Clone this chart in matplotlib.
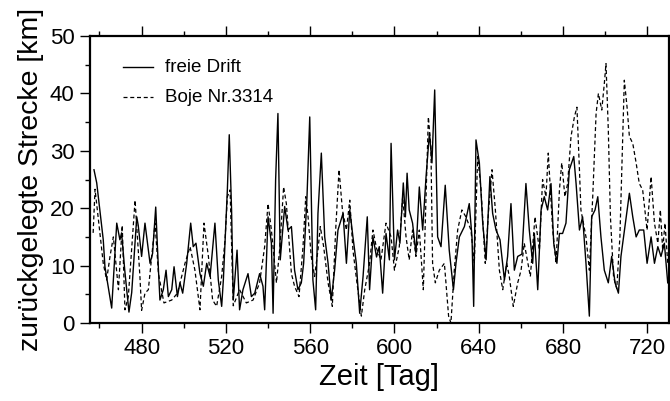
import matplotlib
matplotlib.use("Agg")
import matplotlib.pyplot as plt
from matplotlib.ticker import MultipleLocator

plt.rcParams['font.family'] = ['Liberation Sans', 'DejaVu Sans']

# Tagesweise zurückgelegte Strecke: Modell (freie Drift) und Boje Nr. 3314
drift_days = [457.4, 458.7, 461.8, 462.6, 465.8, 468.2, 469.7, 470.5, 472.0, 474.0,
              475.3, 477.7, 478.4, 480.0, 481.6, 484.0, 485.2, 486.7, 488.0, 488.7,
              490.3, 491.6, 492.7, 494.3, 495.4, 497.0, 498.2, 499.5, 501.4, 503.3,
              504.5, 505.8, 507.7, 509.3, 510.9, 512.5, 514.8, 516.4, 518.0, 518.8,
              520.7, 521.6, 522.7, 523.5, 525.3, 526.5, 528.1, 530.5, 532.1, 533.7,
              536.0, 537.6, 538.4, 540.0, 541.6, 542.4, 543.6, 544.7, 545.8, 547.9,
              549.5, 551.1, 552.6, 554.2, 555.8, 556.9, 558.5, 559.8, 561.3, 562.6,
              563.7, 565.3, 566.9, 568.5, 570.0, 571.6, 573.2, 575.6, 577.2, 578.8,
              580.3, 581.9, 583.5, 585.1, 587.1, 588.2, 589.8, 591.5, 592.8, 594.4,
              596.0, 597.6, 598.4, 600.0, 601.5, 602.6, 604.2, 605.2, 606.0, 607.0,
              608.6, 610.2, 611.8, 613.4, 615.0, 616.6, 617.8, 619.1, 620.5, 622.1,
              624.1, 626.0, 628.0, 629.2, 630.8, 633.2, 635.5, 636.8, 637.6, 638.7,
              640.3, 641.9, 643.5, 645.3, 646.6, 648.2, 650.1, 652.2, 653.7, 655.3,
              656.9, 658.5, 660.5, 662.4, 664.0, 665.6, 666.4, 668.0, 669.6, 671.1,
              672.7, 674.3, 675.6, 677.1, 678.3, 679.8, 681.4, 683.0, 685.1, 686.2,
              687.8, 689.3, 690.9, 692.5, 693.6, 695.2, 696.5, 698.0, 699.6, 701.5,
              703.1, 704.7, 706.3, 707.5, 709.4, 711.5, 713.1, 714.7, 716.2, 718.3,
              719.9, 721.8, 723.4, 725.0, 726.5, 728.1, 729.7]
drift_km = [26.7, 24.4, 14.5, 9.8, 2.6, 17.4, 14.5, 15.7, 9.2, 1.9,
            5.3, 18.5, 17.0, 11.6, 17.4, 10.4, 12.1, 20.2, 9.2, 4.0,
            5.8, 9.2, 4.6, 5.8, 9.8, 4.6, 7.0, 5.2, 10.4, 17.4,
            13.3, 13.9, 8.6, 6.4, 10.4, 8.1, 17.4, 7.5, 2.9, 7.5,
            23.2, 32.8, 19.7, 4.0, 12.7, 2.3, 5.8, 8.6, 4.6, 5.2,
            8.6, 6.4, 2.3, 18.5, 13.9, 1.7, 24.9, 36.5, 11.0, 20.3,
            16.2, 16.8, 9.2, 5.8, 7.0, 10.4, 22.0, 35.9, 7.5, 2.3,
            19.1, 29.6, 15.0, 10.4, 4.0, 9.2, 16.2, 19.1, 10.4, 19.7,
            15.0, 10.4, 1.7, 8.1, 18.5, 5.8, 15.0, 11.5, 13.3, 5.2,
            15.6, 11.0, 31.3, 11.0, 16.2, 13.9, 24.4, 18.5, 26.1, 19.7,
            17.4, 12.1, 23.7, 16.2, 25.5, 33.1, 27.9, 40.6, 15.0, 13.3,
            24.0, 12.7, 5.8, 10.4, 15.0, 16.8, 20.8, 15.0, 2.9, 31.9,
            27.9, 17.4, 11.0, 25.5, 19.1, 16.2, 14.5, 7.5, 11.6, 20.8,
            9.2, 11.6, 12.0, 24.3, 16.2, 10.4, 15.6, 5.8, 19.7, 22.0,
            19.7, 24.3, 13.9, 10.4, 15.6, 15.6, 17.4, 26.7, 29.0, 24.3,
            16.2, 18.5, 10.4, 1.2, 18.5, 19.7, 22.0, 15.0, 9.2, 7.0,
            11.6, 7.0, 5.2, 11.6, 16.8, 22.6, 18.5, 15.0, 16.2, 16.2,
            10.4, 15.0, 10.4, 13.3, 11.6, 13.9, 7.0]

buoy_days = [457.0, 457.9, 461.8, 463.4, 465.0, 466.6, 469.0, 470.8, 472.1, 473.7,
             476.9, 479.2, 480.0, 481.6, 483.2, 484.8, 486.4, 488.0, 490.6, 494.3,
             497.0, 500.6, 503.0, 505.3, 507.7, 509.6, 511.7, 513.7, 515.6, 518.0,
             519.6, 520.7, 522.0, 523.5, 526.5, 529.7, 532.9, 536.0, 538.4, 540.0,
             541.6, 544.0, 545.5, 547.4, 548.7, 551.1, 552.6, 554.7, 556.6, 557.9,
             559.0, 560.5, 562.1, 563.7, 564.8, 566.4, 568.5, 570.5, 572.1, 573.7,
             575.3, 577.2, 578.8, 580.3, 582.2, 584.3, 585.9, 588.2, 589.8, 591.5,
             593.6, 596.0, 598.4, 600.0, 602.3, 603.9, 605.5, 607.0, 608.6, 610.2,
             611.8, 613.7, 615.0, 616.1, 617.3, 618.1, 619.4, 621.3, 623.7, 625.7,
             626.8, 628.4, 630.0, 632.0, 633.9, 636.3, 637.9, 639.5, 641.1, 643.1,
             644.7, 646.3, 647.9, 649.8, 651.4, 653.3, 654.5, 656.4, 658.5, 660.1,
             661.6, 664.5, 666.7, 668.8, 670.3, 671.9, 673.0, 675.1, 676.7, 678.3,
             679.4, 680.9, 682.2, 683.8, 685.4, 686.6, 687.8, 688.5, 690.9, 692.5,
             694.1, 695.7, 696.8, 698.4, 699.6, 700.4, 701.5, 702.5, 704.0, 705.5,
             707.0, 708.0, 709.1, 710.4, 711.5, 713.1, 714.7, 716.2, 717.8, 719.9,
             721.8, 723.4, 725.0, 726.2, 727.3, 728.4, 729.7]
buoy_km = [15.7, 23.3, 10.4, 7.5, 11.6, 15.0, 5.8, 17.0, 2.3, 4.6,
           21.4, 8.1, 2.2, 5.2, 5.8, 11.6, 17.4, 8.6, 3.5, 4.0,
           5.2, 10.4, 13.3, 9.2, 2.3, 17.4, 11.6, 4.0, 2.9, 8.1,
           14.5, 22.0, 23.2, 3.0, 5.8, 3.5, 4.0, 7.0, 13.3, 20.8,
           16.2, 7.0, 12.7, 23.7, 20.8, 8.6, 6.4, 4.6, 13.3, 22.0,
           18.5, 11.6, 8.1, 12.7, 16.8, 13.3, 7.0, 2.9, 16.2, 26.7,
           19.7, 16.2, 21.4, 12.7, 7.0, 1.2, 5.8, 10.4, 16.2, 13.0,
           11.0, 17.4, 15.0, 9.2, 13.3, 22.0, 15.0, 11.0, 16.2, 11.6,
           16.2, 5.8, 22.0, 35.9, 30.7, 10.4, 7.0, 9.2, 10.4, 1.2,
           0.0, 9.2, 16.2, 19.7, 18.5, 16.2, 10.4, 29.0, 23.2, 10.4,
           19.7, 26.7, 19.7, 9.2, 5.8, 10.4, 8.1, 2.9, 7.0, 9.2,
           13.9, 8.1, 18.5, 12.7, 25.0, 22.0, 29.6, 16.2, 10.4, 23.2,
           27.9, 22.0, 24.3, 32.5, 35.9, 37.6, 26.7, 19.7, 15.0, 9.2,
           22.0, 36.5, 40.0, 37.1, 41.7, 45.2, 33.6, 18.5, 8.0, 6.0,
           15.0, 28.0, 42.3, 37.6, 32.5, 31.3, 27.9, 24.3, 23.2, 16.2,
           25.5, 17.4, 13.9, 19.7, 12.7, 17.4, 10.4]

series_labels = ["freie Drift", "Boje Nr.3314"]
x_ticks = [480, 520, 560, 600, 640, 680, 720]
y_ticks = [0, 10, 20, 30, 40, 50]

fig = plt.figure(figsize=(6.7, 4.01), dpi=100)
ax = fig.add_axes([0.1343, 0.1945, 0.8642, 0.7157])

ax.plot(drift_days, drift_km, color="black", lw=1.0, ls="-")
ax.plot(buoy_days, buoy_km, color="black", lw=0.9, ls=(0, (3.2, 2.2)))

ax.set_xlim(455.5, 730.3)
ax.set_ylim(0, 50)
ax.set_xticks(x_ticks)
ax.set_yticks(y_ticks)
ax.xaxis.set_minor_locator(MultipleLocator(20))
ax.yaxis.set_minor_locator(MultipleLocator(5))
ax.tick_params(which="both", direction="out", top=True, right=False,
               width=1.0, labelsize=16, pad=4)
ax.tick_params(which="major", length=7)
ax.tick_params(which="minor", length=3.5)
for side in ("left", "bottom", "top", "right"):
    ax.spines[side].set_linewidth(1.6)

ax.set_xlabel("Zeit [Tag]", fontsize=21, labelpad=3)
ax.set_ylabel("zurückgelegte Strecke [km]", fontsize=20.5, labelpad=4)

# Legende mit Linienmustern oben links
styles = [dict(ls="-", lw=1.0), dict(ls=(0, (3.2, 2.2)), lw=0.9)]
for i, (label, st) in enumerate(zip(series_labels, styles)):
    yy = 0.892 - i * 0.105
    ax.plot([0.057, 0.109], [yy, yy], transform=ax.transAxes, color="black", **st)
    ax.text(0.13, yy, label, transform=ax.transAxes, fontsize=13.5,
            va="center", ha="left")

fig.savefig("out.png", dpi=100)
